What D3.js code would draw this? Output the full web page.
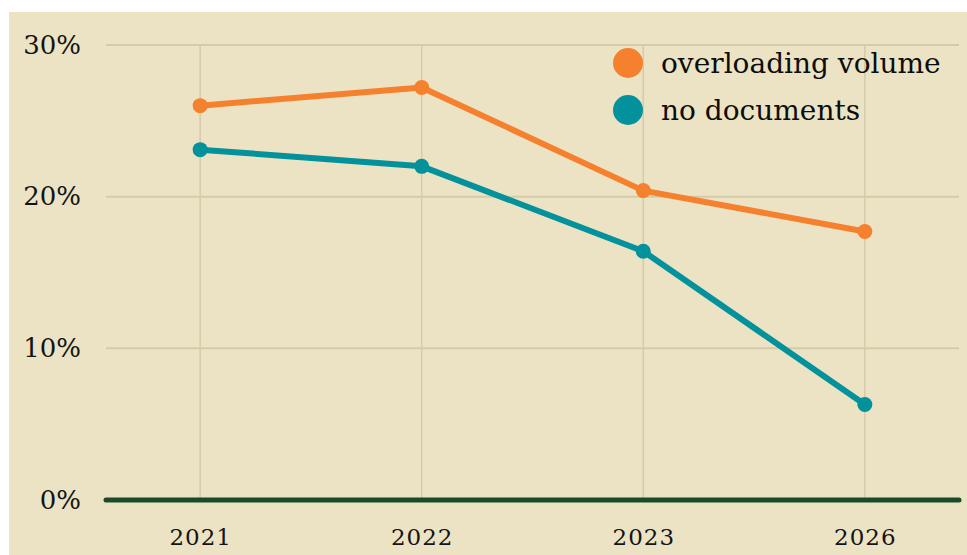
<!DOCTYPE html>
<html>
<head>
<meta charset="utf-8">
<script src="https://cdn.jsdelivr.net/npm/d3@7"></script>
<style>
  body { margin: 0; background: #fff; }
  svg { display: block; }
  .tick text { font-family: "DejaVu Serif", serif; fill: #141412; }
  .legend text { font-family: "DejaVu Serif", serif; fill: #0d0d0b; }
</style>
</head>
<body>
<div id="chart"></div>
<script>
var years = ['2021', '2022', '2023', '2026'];
var overloading = [26.0, 27.2, 20.4, 17.7];
var noDocuments = [23.1, 22.0, 16.4, 6.3];
var yTicks = [0, 10, 20, 30];
var seriesNames = ['overloading volume', 'no documents'];
var seriesColors = ['#f5812e', '#03929b'];

var width = 967,
    height = 555;

var svg = d3.select('#chart')
    .append('svg')
    .attr('width', width)
    .attr('height', height);

// beige panel
svg.append('rect')
    .attr('x', 9)
    .attr('y', 12)
    .attr('width', width - 9)
    .attr('height', height - 12)
    .attr('fill', '#ece3c5');

var xScale = d3.scalePoint()
    .domain(years)
    .range([106, 959])
    .padding(0.425);

var yScale = d3.scaleLinear()
    .domain([0, 30])
    .range([500, 45]);

// horizontal grid
svg.append('g')
    .selectAll('line')
    .data(yTicks.filter(function (d) { return d > 0; }))
    .enter()
    .append('line')
    .attr('x1', 106)
    .attr('x2', 959)
    .attr('y1', function (d) { return yScale(d); })
    .attr('y2', function (d) { return yScale(d); })
    .attr('stroke', '#d6cba8')
    .attr('stroke-width', 2);

// vertical grid
svg.append('g')
    .selectAll('line')
    .data(years)
    .enter()
    .append('line')
    .attr('x1', function (d) { return xScale(d); })
    .attr('x2', function (d) { return xScale(d); })
    .attr('y1', yScale(30))
    .attr('y2', yScale(0))
    .attr('stroke', '#d6cba8')
    .attr('stroke-width', 1.5);

// y axis labels
var yAxis = d3.axisLeft(yScale)
    .tickValues(yTicks)
    .tickSize(0)
    .tickPadding(0)
    .tickFormat(function (d) { return d + '%'; });

svg.append('g')
    .attr('transform', 'translate(81, 0)')
    .call(yAxis)
    .call(function (g) { g.select('.domain').remove(); })
    .selectAll('text')
    .style('font-size', '26px');

// x axis labels
var xAxis = d3.axisBottom(xScale)
    .tickSize(0)
    .tickPadding(0);

svg.append('g')
    .attr('transform', 'translate(0, 529)')
    .call(xAxis)
    .call(function (g) { g.select('.domain').remove(); })
    .selectAll('text')
    .style('font-size', '23px')
    .style('letter-spacing', '1px');

// zero line
svg.append('line')
    .attr('x1', 106)
    .attr('x2', 959)
    .attr('y1', yScale(0))
    .attr('y2', yScale(0))
    .attr('stroke', '#1b4a29')
    .attr('stroke-width', 5)
    .attr('stroke-linecap', 'round');

var line = d3.line()
    .x(function (d, i) { return xScale(years[i]); })
    .y(function (d) { return yScale(d); });

[overloading, noDocuments].forEach(function (values, k) {
    svg.append('path')
        .datum(values)
        .attr('d', line)
        .attr('fill', 'none')
        .attr('stroke', seriesColors[k])
        .attr('stroke-width', 6)
        .attr('stroke-linejoin', 'round');

    svg.append('g')
        .selectAll('circle')
        .data(values)
        .enter()
        .append('circle')
        .attr('cx', function (d, i) { return xScale(years[i]); })
        .attr('cy', function (d) { return yScale(d); })
        .attr('r', 7.5)
        .attr('fill', seriesColors[k]);
});

// legend
var legend = svg.append('g')
    .attr('class', 'legend')
    .selectAll('g')
    .data(seriesNames)
    .enter()
    .append('g')
    .attr('transform', function (d, i) { return 'translate(628,' + (63 + i * 47) + ')'; });

legend.append('circle')
    .attr('r', 15)
    .attr('fill', function (d, i) { return seriesColors[i]; });

legend.append('text')
    .attr('x', 33)
    .attr('y', 10)
    .style('font-size', '28px')
    .text(function (d) { return d; });
</script>
</body>
</html>
